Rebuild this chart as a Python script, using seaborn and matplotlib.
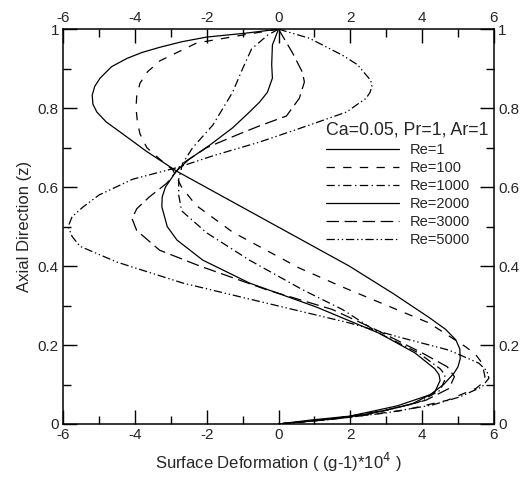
import matplotlib
matplotlib.use('Agg')
import matplotlib.pyplot as plt
from matplotlib.ticker import MultipleLocator, FuncFormatter
import numpy as np
import pandas as pd
import seaborn as sns

# values: deformation x (g-1)*1e4, axial position z
re1_x = [0, -0.9, -2.0, -2.7, -3.31, -3.8, -4.22, -4.65, -4.97, -5.12, -5.19, -5.17, -5.06, -4.8, -4.42, -3.67, -2.83, -1.03, -0.03, 1.97, 3.2, 4.19, 4.65, 4.94, 5.05, 5.06, 5.0, 4.89, 4.6, 4.22, 3.31, 2.0, 0.9, 0]
re1_z = [1, 0.99, 0.98, 0.968, 0.954, 0.941, 0.926, 0.905, 0.876, 0.855, 0.833, 0.81, 0.79, 0.765, 0.74, 0.69, 0.64, 0.55, 0.5, 0.40, 0.33, 0.27, 0.24, 0.213, 0.19, 0.165, 0.145, 0.129, 0.1, 0.074, 0.046, 0.02, 0.01, 0]

re100_x = [0, -1.0, -2.28, -3.3, -3.65, -3.86, -3.95, -3.97, -3.93, -3.86, -3.67, -3.3, -2.94, -2.7, -2.3, -1.28, 0.58, 1.78, 4.19, 5.22, 5.5, 5.67, 5.75, 5.7, 5.5, 4.7, 3.5, 1.8, 0]
re100_z = [1, 0.985, 0.965, 0.92, 0.892, 0.863, 0.83, 0.80, 0.765, 0.735, 0.70, 0.67, 0.643, 0.6, 0.554, 0.486, 0.395, 0.347, 0.256, 0.195, 0.175, 0.154, 0.12, 0.105, 0.09, 0.06, 0.035, 0.015, 0]

re1000_x = [0, -0.3, -0.75, -1.0, -1.28, -1.83, -2.39, -2.67, -2.78, -2.78, -2.7, -2.0, -0.81, 0.67, 1.78, 2.8, 3.9, 4.5, 4.62, 4.65, 4.5, 3.9, 2.8, 1.5, 0]
re1000_z = [1, 0.985, 0.95, 0.9, 0.84, 0.757, 0.70, 0.66, 0.62, 0.58, 0.54, 0.484, 0.415, 0.34, 0.29, 0.23, 0.18, 0.14, 0.127, 0.115, 0.085, 0.055, 0.03, 0.012, 0]

re2000_x = [0, -0.17, -0.19, -0.17, -0.31, -0.53, -0.81, -1.28, -1.92, -2.5, -2.85, -3.15, -3.24, -3.25, -3.1, -2.83, -2.11, -0.81, 1.06, 2.8, 3.8, 4.35, 4.47, 4.5, 4.35, 3.7, 2.5, 1.2, 0]
re2000_z = [1, 0.96, 0.91, 0.876, 0.84, 0.815, 0.79, 0.75, 0.706, 0.67, 0.64, 0.6, 0.575, 0.55, 0.5, 0.466, 0.415, 0.357, 0.296, 0.23, 0.18, 0.14, 0.125, 0.11, 0.08, 0.05, 0.025, 0.01, 0]

re3000_x = [0, 0.39, 0.67, 0.72, 0.58, 0.22, -0.53, -1.08, -2.0, -2.67, -3.11, -3.6, -3.95, -4.08, -3.95, -3.31, -2.19, -0.33, 1.5, 2.8, 4.0, 4.7, 4.9, 4.75, 4.1, 3.0, 1.5, 0]
re3000_z = [1, 0.94, 0.89, 0.866, 0.825, 0.78, 0.755, 0.735, 0.70, 0.66, 0.61, 0.575, 0.545, 0.52, 0.49, 0.44, 0.40, 0.34, 0.29, 0.235, 0.18, 0.145, 0.12, 0.09, 0.06, 0.035, 0.013, 0]

re5000_x = [0, 0.86, 1.78, 2.2, 2.44, 2.57, 2.6, 2.55, 2.44, 1.89, 0.86, -0.53, -1.8, -2.8, -4.06, -5.0, -5.44, -5.75, -5.86, -5.75, -5.53, -4.5, -2.67, -0.33, 1.97, 3.36, 4.75, 5.58, 5.8, 5.86, 5.67, 5.03, 4.28, 3.0, 1.5, 0]
re5000_z = [1, 0.977, 0.934, 0.91, 0.884, 0.87, 0.855, 0.84, 0.825, 0.79, 0.757, 0.714, 0.68, 0.65, 0.62, 0.58, 0.55, 0.525, 0.5, 0.475, 0.45, 0.41, 0.357, 0.306, 0.256, 0.22, 0.187, 0.154, 0.135, 0.116, 0.094, 0.068, 0.048, 0.028, 0.012, 0]

labels = ['Re=1', 'Re=100', 'Re=1000', 'Re=2000', 'Re=3000', 'Re=5000']
series = [(re1_x, re1_z), (re100_x, re100_z), (re1000_x, re1000_z),
          (re2000_x, re2000_z), (re3000_x, re3000_z), (re5000_x, re5000_z)]
styles = ['-', (0, (6, 6)), (0, (6, 2.5, 1, 2.5)), '-', (0, (9, 4)), (0, (6, 2, 1, 2, 1, 2))]

sns.set_style('ticks')
plt.rcParams['font.family'] = ['Liberation Sans', 'DejaVu Sans']
plt.rcParams['lines.scale_dashes'] = False
plt.rcParams['axes.unicode_minus'] = False

fig = plt.figure(figsize=(5.26, 4.78), dpi=100)
ax = fig.add_axes([0.12, 0.113, 0.819, 0.826])

for (xs, zs), lab, ls in zip(series, labels, styles):
    df = pd.DataFrame({'x': xs, 'z': zs})
    sns.lineplot(data=df, x='x', y='z', sort=False, estimator=None, color='black',
                 linewidth=0.9, linestyle=ls, label=lab, ax=ax)

ax.set_xlim(-6, 6)
ax.set_ylim(0, 1)
ax.xaxis.set_major_locator(MultipleLocator(2))
ax.xaxis.set_minor_locator(MultipleLocator(1))
ax.yaxis.set_major_locator(MultipleLocator(0.2))
ax.yaxis.set_minor_locator(MultipleLocator(0.1))
ax.yaxis.set_major_formatter(FuncFormatter(lambda v, p: f'{v:g}'))
ax.xaxis.set_major_formatter(FuncFormatter(lambda v, p: f'{v:g}'))
ax.tick_params(which='both', direction='in', top=True, right=True,
               labeltop=True, labelright=True, labelsize=11, pad=3, width=1, color='black')
ax.tick_params(which='major', length=10)
ax.tick_params(which='minor', length=6)
for s in ax.spines.values():
    s.set_linewidth(1.1)
    s.set_color('black')

ax.set_xlabel('Surface Deformation ( (g-1)*10$^{4}$ )', fontsize=12, labelpad=6)
ax.set_ylabel('Axial Direction (z)', fontsize=12, labelpad=4)

leg = ax.legend(title='Ca=0.05, Pr=1, Ar=1', loc='upper left', bbox_to_anchor=(0.61, 0.765),
                frameon=False, fontsize=10.5, title_fontsize=12.8, handlelength=5.0,
                handletextpad=0.75, labelspacing=0.28, borderpad=0, borderaxespad=0,
                alignment='left')

fig.savefig('out.png', dpi=100)
